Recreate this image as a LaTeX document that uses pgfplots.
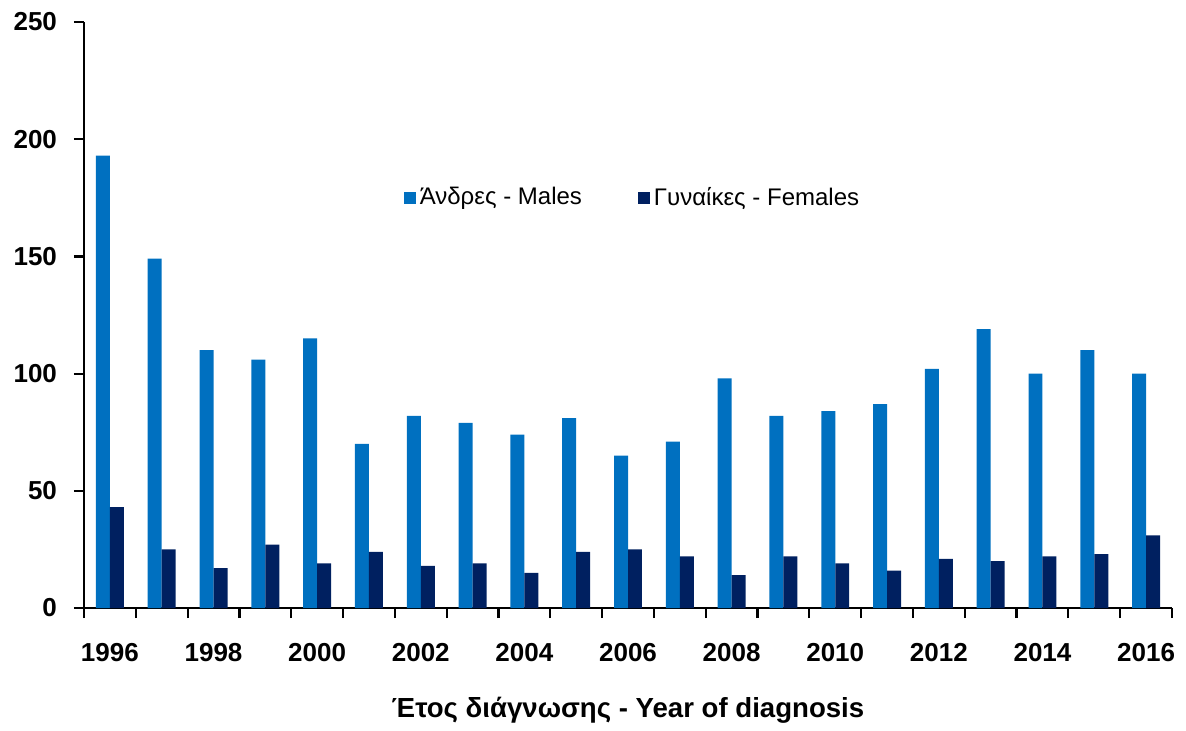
\documentclass[border=0pt]{standalone}
\usepackage{pgfplots}
\pgfplotsset{compat=1.18}
\usepackage{fontspec}
\setmainfont{Liberation Sans}
\definecolor{males}{HTML}{0070C0}
\definecolor{females}{HTML}{002060}
\begin{document}
\begin{tikzpicture}
\begin{axis}[
    scale only axis,
    width=544pt, height=293pt,
    ybar=0pt, bar width=0.27,
    xmin=-0.5, xmax=20.5,
    ymin=0, ymax=250,
    ytick={0,50,...,250},
    xtick={0,2,...,20},
    xticklabels={1996,1998,2000,2002,2004,2006,2008,2010,2012,2014,2016},
    minor xtick={-0.5,0.5,...,20.5},
    major x tick style={draw=none},
    tick align=outside,
    major tick length=5pt, minor tick length=5pt,
    tick style={black, line width=1.1pt},
    axis x line*=bottom, axis y line*=left,
    axis line style={line width=1.3pt, -},
    /pgf/number format/assume math mode=true,
    ticklabel style={font=\bfseries\fontsize{13}{15}\selectfont},
    yticklabel style={xshift=-5pt},
    xticklabel style={yshift=-9pt},
    xlabel={Έτος διάγνωσης - Year of diagnosis},
    xlabel style={font=\bfseries\fontsize{13.8}{16}\selectfont, yshift=-11pt},
    legend style={draw=none, fill=none, at={(0.505,0.70)}, anchor=center,
        font=\fontsize{12}{14}\selectfont, legend columns=2,
        /tikz/every even column/.append style={column sep=26pt}},
    legend image code/.code={\fill[#1] (0pt,-3pt) rectangle (6pt,3pt);},
]
\addplot[fill=males, draw=none] coordinates {
(0,193)(1,149)(2,110)(3,106)(4,115)(5,70)(6,82)(7,79)(8,74)(9,81)(10,65)
(11,71)(12,98)(13,82)(14,84)(15,87)(16,102)(17,119)(18,100)(19,110)(20,100)};
\addlegendentry{Άνδρες - Males}
\addplot[fill=females, draw=none] coordinates {
(0,43)(1,25)(2,17)(3,27)(4,19)(5,24)(6,18)(7,19)(8,15)(9,24)(10,25)
(11,22)(12,14)(13,22)(14,19)(15,16)(16,21)(17,20)(18,22)(19,23)(20,31)};
\addlegendentry{Γυναίκες - Females}
\end{axis}
\path ([shift={(-42pt,-58.5pt)}]current axis.south west) rectangle ([shift={(7pt,11pt)}]current axis.north east);
\end{tikzpicture}
\end{document}
